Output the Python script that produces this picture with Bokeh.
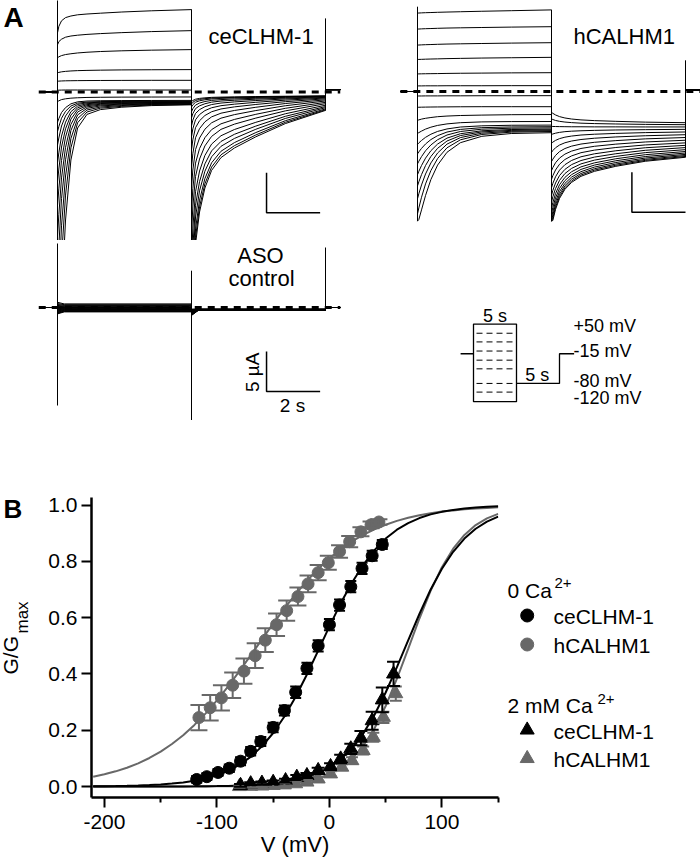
from math import pi
from bokeh.plotting import figure
from bokeh.layouts import column, row
from bokeh.models import (Range1d, Label, ColumnDataSource, Whisker, TeeHead,
                          FixedTicker, NumeralTickFormatter)
from bokeh.embed import file_html
from bokeh.resources import INLINE

FONT = "Liberation Sans"
GRAY = "#686868"

# ======================= Panel A data (currents in uA, time in s) =======================
STEP_MV = [-120, -110, -100, -90, -80, -70, -60, -50, -40, -30, -20, -10, 0, 10, 20, 30, 40, 50]
T_STEP = [0.0, 0.05, 0.15, 0.3, 0.5, 0.75, 1.1, 1.6, 2.4, 3.5, 5.0]
STEP_DUR = 5.0
TAIL_DUR = 5.0
HOLD_PRE = 0.0

# ceCLHM-1 : rows follow STEP_MV, columns follow T_STEP
CE_STEP = [
    [-45.0, -38.0, -26.0, -16.0, -8.5, -4.5, -2.8, -2.2, -1.9, -1.7, -1.6],
    [-35.75, -30.18, -20.73, -12.89, -6.98, -3.84, -2.5, -2.02, -1.79, -1.63, -1.55],
    [-28.65, -24.23, -16.73, -10.5, -5.81, -3.32, -2.25, -1.88, -1.69, -1.56, -1.5],
    [-22.63, -19.18, -13.33, -8.47, -4.81, -2.87, -2.04, -1.74, -1.6, -1.5, -1.45],
    [-18.05, -15.34, -10.74, -6.92, -4.05, -2.51, -1.86, -1.63, -1.52, -1.44, -1.4],
    [-14.2, -12.11, -8.56, -5.61, -3.39, -2.21, -1.71, -1.53, -1.44, -1.38, -1.35],
    [-11.26, -9.63, -6.88, -4.6, -2.88, -1.97, -1.58, -1.44, -1.37, -1.32, -1.3],
    [-8.85, -7.61, -5.51, -3.77, -2.46, -1.76, -1.46, -1.35, -1.3, -1.27, -1.25],
    [-6.63, -5.75, -4.25, -3.0, -2.06, -1.56, -1.35, -1.28, -1.24, -1.21, -1.2],
    [-4.95, -4.33, -3.28, -2.41, -1.75, -1.4, -1.26, -1.2, -1.18, -1.16, -1.15],
    [-3.77, -3.32, -2.57, -1.95, -1.48, -1.23, -1.13, -1.09, -1.07, -1.06, -1.05],
    [-1.2, -1.1, -0.95, -0.85, -0.77, -0.72, -0.68, -0.66, -0.64, -0.63, -0.62],
    [0.22, 0.23, 0.24, 0.25, 0.25, 0.25, 0.25, 0.25, 0.25, 0.25, 0.25],
    [1.34, 1.36, 1.38, 1.4, 1.41, 1.42, 1.43, 1.44, 1.45, 1.46, 1.46],
    [2.4, 2.45, 2.52, 2.58, 2.63, 2.67, 2.7, 2.73, 2.76, 2.78, 2.8],
    [4.25, 4.4, 4.55, 4.68, 4.78, 4.88, 4.97, 5.06, 5.15, 5.23, 5.3],
    [5.9, 6.3, 6.6, 6.85, 7.0, 7.1, 7.2, 7.3, 7.42, 7.55, 7.67],
    [7.4, 8.2, 8.9, 9.3, 9.5, 9.65, 9.75, 9.85, 10.0, 10.15, 10.3],
]
CE_TAIL = [
    [-1.21, -1.06, -0.9, -0.8, -0.73, -0.67, -0.64, -0.61, -0.57, -0.53, -0.49],
    [-1.49, -1.29, -1.06, -0.93, -0.83, -0.76, -0.71, -0.67, -0.62, -0.57, -0.51],
    [-1.87, -1.6, -1.28, -1.1, -0.97, -0.87, -0.8, -0.74, -0.68, -0.61, -0.53],
    [-2.47, -2.09, -1.64, -1.38, -1.19, -1.05, -0.95, -0.87, -0.78, -0.67, -0.57],
    [-3.23, -2.7, -2.08, -1.73, -1.47, -1.27, -1.13, -1.03, -0.9, -0.76, -0.61],
    [-4.24, -3.52, -2.68, -2.2, -1.84, -1.57, -1.38, -1.24, -1.07, -0.87, -0.67],
    [-5.59, -4.61, -3.47, -2.82, -2.33, -1.97, -1.71, -1.52, -1.29, -1.02, -0.75],
    [-7.26, -5.97, -4.46, -3.59, -2.94, -2.47, -2.12, -1.86, -1.56, -1.21, -0.85],
    [-9.41, -7.71, -5.72, -4.58, -3.73, -3.11, -2.65, -2.31, -1.91, -1.44, -0.98],
    [-11.93, -9.75, -7.2, -5.75, -4.65, -3.85, -3.27, -2.83, -2.32, -1.72, -1.12],
    [-14.81, -12.08, -8.89, -7.07, -5.71, -4.7, -3.98, -3.43, -2.79, -2.04, -1.29],
    [-17.64, -14.37, -10.56, -8.38, -6.74, -5.55, -4.67, -4.02, -3.26, -2.36, -1.46],
    [-20.89, -17.01, -12.47, -9.88, -7.93, -6.51, -5.47, -4.69, -3.79, -2.72, -1.65],
    [-23.77, -19.33, -14.16, -11.2, -8.99, -7.36, -6.18, -5.29, -4.26, -3.04, -1.82],
    [-26.26, -21.35, -15.62, -12.35, -9.9, -8.1, -6.79, -5.81, -4.66, -3.31, -1.96],
    [-28.78, -23.39, -17.11, -13.52, -10.82, -8.85, -7.41, -6.33, -5.07, -3.59, -2.11],
    [-30.58, -24.85, -18.17, -14.35, -11.48, -9.38, -7.85, -6.71, -5.37, -3.79, -2.22],
    [-32.0, -26.0, -19.0, -15.0, -12.0, -9.8, -8.2, -7.0, -5.6, -3.95, -2.3],
]
CE_HOLD_POST = 0.3
CE_SPIKE_T = [0.0, 5.0, 10.0]
CE_SPIKE_HI = [13.0, 10.3, 9.2]
CE_SPIKE_LO = [-20.0, -20.0, -2.3]

# hCALHM1
HC_STEP = [
    [-16.2, -16.0, -14.8, -13.0, -11.0, -9.2, -7.6, -6.4, -5.6, -5.25, -5.15],
    [-15.3, -14.55, -13.22, -11.55, -9.88, -8.38, -7.04, -6.04, -5.37, -5.08, -5.0],
    [-13.4, -12.78, -11.68, -10.31, -8.93, -7.69, -6.58, -5.76, -5.21, -4.97, -4.9],
    [-11.8, -11.29, -10.39, -9.25, -8.12, -7.1, -6.19, -5.51, -5.05, -4.86, -4.8],
    [-10.4, -9.98, -9.25, -8.33, -7.4, -6.57, -5.83, -5.28, -4.91, -4.75, -4.7],
    [-9.05, -8.72, -8.14, -7.41, -6.68, -6.03, -5.44, -5.0, -4.71, -4.59, -4.55],
    [-7.8, -7.55, -7.11, -6.56, -6.01, -5.52, -5.07, -4.74, -4.52, -4.43, -4.4],
    [-6.6, -6.42, -6.12, -5.73, -5.34, -4.99, -4.68, -4.44, -4.29, -4.22, -4.2],
    [-5.25, -5.14, -4.95, -4.7, -4.46, -4.24, -4.05, -3.9, -3.8, -3.76, -3.75],
    [-3.6, -3.55, -3.45, -3.35, -3.25, -3.15, -3.07, -3.0, -2.95, -2.9, -2.88],
    [-1.98, -1.97, -1.96, -1.95, -1.94, -1.93, -1.92, -1.91, -1.9, -1.9, -1.9],
    [-0.56, -0.56, -0.56, -0.55, -0.55, -0.55, -0.54, -0.54, -0.53, -0.53, -0.52],
    [0.7, 0.7, 0.7, 0.71, 0.71, 0.71, 0.72, 0.72, 0.72, 0.73, 0.73],
    [2.2, 2.2, 2.21, 2.22, 2.23, 2.24, 2.26, 2.28, 2.3, 2.33, 2.35],
    [4.0, 4.01, 4.02, 4.04, 4.06, 4.08, 4.11, 4.14, 4.18, 4.22, 4.27],
    [5.8, 5.81, 5.83, 5.85, 5.87, 5.9, 5.93, 5.96, 6.0, 6.05, 6.1],
    [7.8, 7.81, 7.83, 7.85, 7.87, 7.9, 7.93, 7.96, 8.0, 8.05, 8.1],
    [9.8, 9.81, 9.83, 9.85, 9.87, 9.9, 9.93, 9.97, 10.03, 10.1, 10.2],
]
HC_TAIL = [
    [-2.6, -2.73, -2.93, -3.14, -3.31, -3.44, -3.55, -3.64, -3.73, -3.83, -3.9],
    [-3.43, -3.5, -3.62, -3.73, -3.82, -3.89, -3.96, -4.01, -4.06, -4.11, -4.15],
    [-4.36, -4.37, -4.38, -4.39, -4.4, -4.41, -4.41, -4.42, -4.42, -4.43, -4.43],
    [-5.37, -5.31, -5.21, -5.11, -5.02, -4.96, -4.91, -4.86, -4.81, -4.77, -4.73],
    [-6.47, -6.33, -6.11, -5.89, -5.71, -5.57, -5.44, -5.34, -5.24, -5.14, -5.06],
    [-7.6, -7.38, -7.03, -6.69, -6.41, -6.19, -6.0, -5.84, -5.68, -5.53, -5.4],
    [-8.76, -8.46, -7.99, -7.51, -7.13, -6.83, -6.57, -6.35, -6.14, -5.92, -5.75],
    [-9.89, -9.51, -8.91, -8.32, -7.83, -7.45, -7.12, -6.85, -6.58, -6.31, -6.09],
    [-10.98, -10.52, -9.81, -9.09, -8.5, -8.05, -7.65, -7.33, -7.0, -6.68, -6.42],
    [-12.02, -11.49, -10.66, -9.83, -9.15, -8.62, -8.16, -7.79, -7.41, -7.03, -6.73],
    [-12.97, -12.37, -11.44, -10.5, -9.74, -9.14, -8.63, -8.2, -7.78, -7.35, -7.01],
    [-13.82, -13.16, -12.14, -11.11, -10.26, -9.61, -9.05, -8.58, -8.11, -7.64, -7.27],
    [-14.59, -13.88, -12.77, -11.65, -10.74, -10.03, -9.42, -8.92, -8.41, -7.9, -7.5],
    [-15.24, -14.49, -13.3, -12.11, -11.14, -10.39, -9.74, -9.2, -8.66, -8.13, -7.69],
    [-15.8, -15.01, -13.76, -12.51, -11.49, -10.7, -10.02, -9.45, -8.88, -8.32, -7.86],
    [-16.2, -15.44, -14.14, -12.85, -11.78, -10.96, -10.25, -9.66, -9.07, -8.48, -8.0],
    [-16.2, -15.82, -14.47, -13.13, -12.03, -11.18, -10.44, -9.83, -9.22, -8.61, -8.12],
    [-16.2, -16.12, -14.74, -13.36, -12.23, -11.36, -10.6, -9.98, -9.35, -8.72, -8.22],
]
HC_HOLD_POST = 0.2
HC_SPIKE_T = [0.0, 5.0, 10.0]
HC_SPIKE_HI = [10.6, 10.2, 3.9]
HC_SPIKE_LO = [-16.2, -16.2, -8.2]

# ASO control: nearly flat currents
ASO_T = [0.0, 0.25, 5.0]
ASO_STEP_START = [-0.8, -0.72, -0.65, -0.58, -0.5, -0.43, -0.36, -0.29, -0.22, -0.15, -0.08, 0.0, 0.08, 0.15, 0.26, 0.38, 0.5, 0.65]
ASO_STEP_SS = [-0.55, -0.5, -0.45, -0.4, -0.35, -0.3, -0.25, -0.2, -0.15, -0.1, -0.05, 0.0, 0.05, 0.1, 0.18, 0.26, 0.35, 0.45]
ASO_TAIL_START = [-0.2, -0.25, -0.3, -0.35, -0.4, -0.45, -0.5, -0.55, -0.6, -0.65, -0.7, -0.75, -0.8, -0.85, -0.9, -0.93, -0.96, -1.0]
ASO_TAIL_SS = [-0.2, -0.21, -0.22, -0.23, -0.24, -0.25, -0.26, -0.27, -0.28, -0.29, -0.3, -0.31, -0.32, -0.33, -0.34, -0.35, -0.36, -0.37]
ASO_HOLD_POST = 0.0
ASO_SPIKE_T = [0.0, 5.0, 10.0]
ASO_SPIKE_HI = [8.0, 4.6, 7.5]
ASO_SPIKE_LO = [-12.25, -14.2, -0.3]

SCALE_T = 2.0     # s
SCALE_I = 5.0     # uA

# voltage protocol (mV, s)
PROTO_HOLD_MV = -15
PROTO_TOP_MV = 50
PROTO_BOTTOM_MV = -120
PROTO_TAIL_MV = -80
PROTO_DASH_MV = [30, 11, -9, -29, -48, -80, -99]
PROTO_STEP_S = 5
PROTO_TAIL_S = 5

# ======================= Panel B data =======================
CE0_V = [-118, -109, -99, -89, -79, -70, -61, -50, -40, -30, -20, -10, 0, 9, 19, 29, 38, 47]
CE0_G = [0.025, 0.035, 0.05, 0.065, 0.09, 0.125, 0.16, 0.21, 0.27, 0.335, 0.42, 0.50, 0.575, 0.645, 0.71, 0.775, 0.82, 0.86]
CE0_E = [0.012, 0.012, 0.012, 0.013, 0.014, 0.015, 0.016, 0.017, 0.018, 0.02, 0.02, 0.02, 0.02, 0.02, 0.02, 0.02, 0.018, 0.016]

HC0_V = [-116, -106, -96, -86, -76, -66, -57, -47, -38, -28, -19, -10, -1, 9, 18, 28, 37, 44]
HC0_G = [0.245, 0.28, 0.315, 0.36, 0.41, 0.465, 0.52, 0.575, 0.625, 0.675, 0.72, 0.76, 0.795, 0.835, 0.87, 0.905, 0.93, 0.94]
HC0_E = [0.045, 0.045, 0.045, 0.045, 0.045, 0.044, 0.042, 0.04, 0.036, 0.032, 0.03, 0.027, 0.025, 0.022, 0.02, 0.016, 0.012, 0.01]

CE2_V = [-79, -70, -60, -50, -39, -29, -20, -10, 1, 10, 19, 28, 38, 47, 57]
CE2_G = [0.004, 0.01, 0.012, 0.015, 0.021, 0.033, 0.039, 0.057, 0.071, 0.098, 0.134, 0.172, 0.234, 0.308, 0.40]
CE2_E = [0.005, 0.005, 0.006, 0.006, 0.007, 0.008, 0.009, 0.01, 0.012, 0.015, 0.018, 0.025, 0.032, 0.044, 0.043]

HC2_V = [-80, -70, -60, -50, -40, -30, -20, -10, 1, 11, 20, 30, 39, 48, 59]
HC2_G = [0.0, 0.001, 0.002, 0.004, 0.006, 0.01, 0.016, 0.027, 0.045, 0.069, 0.092, 0.128, 0.175, 0.246, 0.33]
HC2_E = [0.004, 0.004, 0.004, 0.005, 0.005, 0.006, 0.007, 0.008, 0.009, 0.01, 0.012, 0.014, 0.016, 0.02, 0.025]

FIT_V = [-210, -200, -190, -180, -170, -160, -150, -140, -130, -120, -110, -100, -90, -80, -70, -60, -50,
         -40, -30, -20, -10, 0, 10, 20, 30, 40, 50, 60, 70, 80, 90, 100, 110, 120, 130, 140, 150]
FIT_CE0 = [0.0009, 0.0013, 0.0019, 0.0027, 0.0037, 0.0053, 0.0074, 0.0104, 0.0147, 0.0206, 0.0288, 0.0402,
           0.0558, 0.0771, 0.1055, 0.1427, 0.1902, 0.249, 0.319, 0.398, 0.483, 0.569, 0.651, 0.724, 0.787,
           0.840, 0.881, 0.9125, 0.936, 0.954, 0.967, 0.976, 0.983, 0.988, 0.9915, 0.994, 0.996]
FIT_HC0 = [0.035, 0.0435, 0.054, 0.0668, 0.0825, 0.1014, 0.124, 0.151, 0.182, 0.219, 0.26, 0.306, 0.356,
           0.41, 0.466, 0.523, 0.579, 0.633, 0.684, 0.731, 0.773, 0.811, 0.843, 0.871, 0.894, 0.914, 0.93,
           0.944, 0.955, 0.964, 0.971, 0.977, 0.981, 0.985, 0.988, 0.99, 0.992]
FIT_CE2 = [0.0, 0.0, 0.0001, 0.0001, 0.0001, 0.0002, 0.0002, 0.0003, 0.0005, 0.0007, 0.0011, 0.0016, 0.0023,
           0.0034, 0.0049, 0.0072, 0.0106, 0.0155, 0.0226, 0.0328, 0.0474, 0.0682, 0.097, 0.136, 0.188, 0.254,
           0.334, 0.424, 0.519, 0.613, 0.700, 0.774, 0.834, 0.881, 0.916, 0.941, 0.959]
FIT_HC2 = [0.0, 0.0, 0.0, 0.0, 0.0, 0.0, 0.0001, 0.0001, 0.0002, 0.0002, 0.0004, 0.0006, 0.0009, 0.0014,
           0.0022, 0.0034, 0.0052, 0.008, 0.0122, 0.0188, 0.0287, 0.0437, 0.0659, 0.0982, 0.144, 0.206, 0.286,
           0.383, 0.489, 0.597, 0.696, 0.779, 0.845, 0.894, 0.929, 0.953, 0.969]

X_TICKS = [-200, -100, 0, 100]
X_MINOR = [-150, -50, 50, 150]
Y_TICKS = [0.0, 0.2, 0.4, 0.6, 0.8, 1.0]

# ======================= helpers =======================
PX_PER_S = 26.8
PX_PER_UA = 8.0
MID = 0.33          # distance (in em) from text baseline up to its middle line


def bare_fig(width, height, xr, yr, top=0, bottom=0):
    p = figure(width=width, height=height, x_range=xr, y_range=yr, title=None,
               output_backend="svg", toolbar_location=None,
               x_axis_location=None, y_axis_location=None, min_border=0,
               min_border_top=top, min_border_bottom=bottom,
               outline_line_color=None, background_fill_color="white",
               border_fill_color="white")
    p.grid.visible = False
    return p


def trace_fig(left, right, top, bottom, t0_px, zero_px):
    xr = Range1d((left - t0_px) / PX_PER_S, (right - t0_px) / PX_PER_S)
    yr = Range1d((zero_px - bottom) / PX_PER_UA, (zero_px - top) / PX_PER_UA)
    return bare_fig(right - left, bottom - top, xr, yr)


def add_traces(p, t_grid, step_rows, tail_rows, hold_post, pre_t=-0.64, post_t=10.55):
    xs, ys = [], []
    for s, tl in zip(step_rows, tail_rows):
        x = [pre_t, 0.0] + list(t_grid) + [STEP_DUR + t for t in t_grid] + [STEP_DUR + TAIL_DUR, post_t]
        y = [HOLD_PRE, HOLD_PRE] + list(s) + list(tl) + [hold_post, hold_post]
        xs.append(x)
        ys.append(y)
    p.multi_line(xs, ys, line_color="black", line_width=1)


def add_spikes(p, t, hi, lo):
    p.segment(x0=t, y0=lo, x1=t, y1=hi, line_color="black", line_width=1)


def add_zero(p, t0=-0.7, t1=10.55):
    p.segment(x0=[t0], y0=[0.0], x1=[t1], y1=[0.0], line_color="black",
              line_width=3, line_dash="7 6")


def add_scalebar(p, t0, i_top):
    p.line([t0, t0, t0 + SCALE_T], [i_top, i_top - SCALE_I, i_top - SCALE_I],
           line_color="black", line_width=1.5)


def label(p, x, y, text, size, align="left", angle=0, bold=False, color="black"):
    p.add_layout(Label(x=x, y=y, text=text, text_font=FONT, text_font_size=f"{size}px",
                       text_align=align, text_baseline="middle", angle=angle,
                       text_font_style="bold" if bold else "normal", text_color=color))


def trace_label(p, page_x, base_y, zero_px, t0_px, text, size, align="left", bold=False):
    """Place a text whose baseline sits at page row base_y in a trace panel."""
    mid_y = base_y - MID * size
    label(p, (page_x - t0_px) / PX_PER_S, (zero_px - mid_y) / PX_PER_UA, text, size, align, bold=bold)


# ======================= Panel A figures =======================
pA1 = trace_fig(0, 360, 0, 240, 57, 91.5)
add_traces(pA1, T_STEP, CE_STEP, CE_TAIL, CE_HOLD_POST)
add_spikes(pA1, CE_SPIKE_T, CE_SPIKE_HI, CE_SPIKE_LO)
add_zero(pA1)
add_scalebar(pA1, 7.8, -10.1)
trace_label(pA1, 208, 43, 91.5, 57, "ceCLHM-1", 22)
trace_label(pA1, 3, 26, 91.5, 57, "A", 28, bold=True)

pA2 = trace_fig(360, 700, 0, 240, 417, 91)
add_traces(pA2, T_STEP, HC_STEP, HC_TAIL, HC_HOLD_POST)
add_spikes(pA2, HC_SPIKE_T, HC_SPIKE_HI, HC_SPIKE_LO)
add_zero(pA2, -0.64, 10.6)
add_scalebar(pA2, 8.0, -10.1)
trace_label(pA2, 573, 43, 91, 417, "hCALHM1", 22)

pA3 = trace_fig(0, 440, 240, 420, 57, 307)
aso_step = [[a, b, b] for a, b in zip(ASO_STEP_START, ASO_STEP_SS)]
aso_tail = [[a, b, b] for a, b in zip(ASO_TAIL_START, ASO_TAIL_SS)]
add_traces(pA3, ASO_T, aso_step, aso_tail, ASO_HOLD_POST)
add_spikes(pA3, ASO_SPIKE_T, ASO_SPIKE_HI, ASO_SPIKE_LO)
add_zero(pA3)
add_scalebar(pA3, 7.8, -5.5)
trace_label(pA3, 260, 262.7, 307, 57, "ASO", 22, align="center")
trace_label(pA3, 261, 285, 307, 57, "control", 22, align="center")
label(pA3, 7.29, -8.1, "5 \u00b5A", 19, align="center", angle=pi / 2)
label(pA3, 8.77, -12.25, "2 s", 19, align="center")

# voltage protocol schematic
P_PX_PER_S = 8.6
P_PX_PER_MV = 0.4563


def mv_at(px):
    return (365.25 - px) / P_PX_PER_MV - 41.25


pP = bare_fig(260, 180, Range1d((440 - 473) / P_PX_PER_S, (700 - 473) / P_PX_PER_S),
              Range1d(mv_at(420), mv_at(240)))
pP.quad(left=[0], right=[PROTO_STEP_S], bottom=[PROTO_BOTTOM_MV], top=[PROTO_TOP_MV],
        fill_color=None, line_color="black", line_width=1.3)
pP.line([-1.5, 0], [PROTO_HOLD_MV, PROTO_HOLD_MV], line_color="black", line_width=1.3)
tail_end = PROTO_STEP_S + PROTO_TAIL_S
pP.line([PROTO_STEP_S, tail_end, tail_end, tail_end + 1.7],
        [PROTO_TAIL_MV, PROTO_TAIL_MV, PROTO_HOLD_MV, PROTO_HOLD_MV], line_color="black", line_width=1.3)
pP.multi_line([[0.35, PROTO_STEP_S] for _ in PROTO_DASH_MV], [[v, v] for v in PROTO_DASH_MV],
              line_color="black", line_width=1, line_dash="6 4")
label(pP, 2.5, mv_at(315), "5 s", 18, align="center")
label(pP, 7.4, mv_at(374), "5 s", 18, align="center")
label(pP, 11.63, mv_at(325), "+50 mV", 18)
label(pP, 11.63, mv_at(350), "-15 mV", 18)
label(pP, 11.63, mv_at(380), "-80 mV", 18)
label(pP, 11.63, mv_at(397.5), "-120 mV", 18)

# ======================= Panel B =======================
B_TOP, B_BOTTOM = 77, 68          # borders around the data frame (page y 497..797)
pB = figure(width=456, height=445, x_range=Range1d(-211.5, 150.3), y_range=Range1d(-0.039, 1.027),
            title=None, output_backend="svg", toolbar_location=None,
            min_border_left=47, min_border_right=2, min_border_top=B_TOP, min_border_bottom=B_BOTTOM,
            outline_line_color=None, background_fill_color="white", border_fill_color="white")
pB.grid.visible = False
for ax in (pB.xaxis[0], pB.yaxis[0]):
    ax.axis_line_width = 2.5
    ax.major_tick_line_width = 2
    ax.minor_tick_line_width = 2
    ax.major_tick_out = 10
    ax.major_tick_in = 0
    ax.minor_tick_out = 5
    ax.minor_tick_in = 0
    ax.major_label_text_font = FONT
    ax.major_label_text_font_size = "21px"
    ax.major_label_text_color = "black"
pB.xaxis.ticker = FixedTicker(ticks=X_TICKS, minor_ticks=X_MINOR)
pB.xaxis.formatter = NumeralTickFormatter(format="0")
pB.xaxis.major_label_standoff = 7
pB.xaxis.axis_label = "V (mV)"
pB.xaxis.axis_label_text_font = FONT
pB.xaxis.axis_label_text_font_size = "22px"
pB.xaxis.axis_label_text_font_style = "normal"
pB.xaxis.axis_label_text_color = "black"
pB.xaxis.axis_label_standoff = 0
pB.yaxis.ticker = FixedTicker(ticks=Y_TICKS)
pB.yaxis.formatter = NumeralTickFormatter(format="0.0")
pB.yaxis.major_label_standoff = 4
pB.yaxis.minor_tick_line_color = None


def series(p, v, g, e, color, marker, size, cap):
    src = ColumnDataSource(dict(v=v, g=g, hi=[a + b for a, b in zip(g, e)], lo=[a - b for a, b in zip(g, e)]))
    w = Whisker(source=src, base="v", upper="hi", lower="lo", line_color=color, line_width=2,
                upper_head=TeeHead(size=cap, line_color=color, line_width=2),
                lower_head=TeeHead(size=cap, line_color=color, line_width=2), level="glyph")
    p.add_layout(w)
    p.scatter(x="v", y="g", source=src, marker=marker, size=size, fill_color=color, line_color=color)


pB.line(FIT_V, FIT_HC2, line_color=GRAY, line_width=2)
series(pB, HC2_V, HC2_G, HC2_E, GRAY, "triangle", 14, 12)
pB.line(FIT_V, FIT_CE2, line_color="black", line_width=2)
series(pB, CE2_V, CE2_G, CE2_E, "black", "triangle", 14, 13)
pB.line(FIT_V, FIT_HC0, line_color=GRAY, line_width=2)
series(pB, HC0_V, HC0_G, HC0_E, GRAY, "circle", 12, 17)
pB.line(FIT_V, FIT_CE0, line_color="black", line_width=2)
series(pB, CE0_V, CE0_G, CE0_E, "black", "circle", 12, 11)

# Side strips of panel B share its frame rows (page y 497..797); positions are page pixels,
# stored as negative y so that larger page y lies lower.
pBL = bare_fig(44, 445, Range1d(0, 44), Range1d(-797, -497), top=B_TOP, bottom=B_BOTTOM)
label(pBL, 3, -(517.5 - MID * 26), "B", 26, bold=True)
label(pBL, 17 - MID * 21, -674, "G/G", 21, angle=pi / 2)
label(pBL, 28 - MID * 17, -633, "max", 17, angle=pi / 2)

pL = bare_fig(200, 445, Range1d(500, 700), Range1d(-797, -497), top=B_TOP, bottom=B_BOTTOM)
pL.scatter([526.7], [-615], marker="circle", size=13, color="black")
pL.scatter([526.7], [-644], marker="circle", size=13, color=GRAY)
pL.scatter([526.7], [-729.5], marker="triangle", size=14, color="black")
pL.scatter([526.7], [-758], marker="triangle", size=14, color=GRAY)
for lx, base, txt, fs in [(507, 597, "0 Ca", 21), (554, 587, "2+", 15),
                          (553, 623, "ceCLHM-1", 21), (553, 652, "hCALHM1", 21),
                          (507, 712, "2 mM Ca", 21), (597, 703, "2+", 15),
                          (553, 738, "ceCLHM-1", 21), (553, 766, "hCALHM1", 21)]:
    label(pL, lx, -(base - MID * fs), txt, fs)

layout = column(row(pA1, pA2), row(pA3, pP), row(pBL, pB, pL))
open("out.html", "w").write(file_html(layout, INLINE))
